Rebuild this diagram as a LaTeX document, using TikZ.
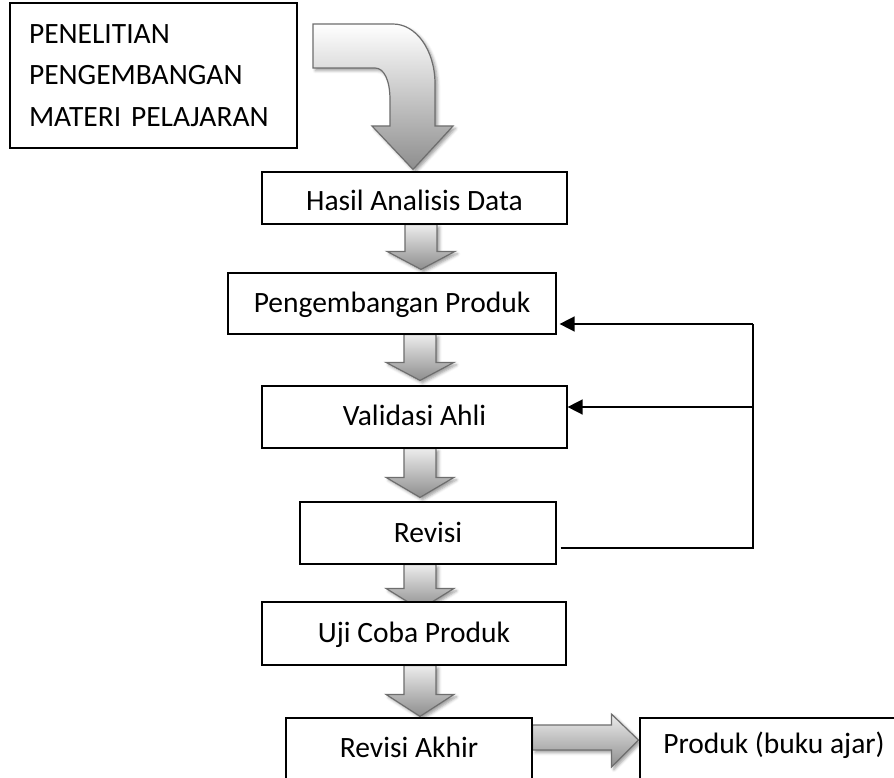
\documentclass[tikz,border=0pt]{standalone}
\usepackage{fontspec}
\setmainfont{Carlito}
\usetikzlibrary{calc,arrows.meta,shadows.blur}
\pgfdeclarelayer{background}
\pgfsetlayers{background,main}
\definecolor{arrowline}{HTML}{6E6E6E}
\definecolor{arrowlight}{HTML}{ECECEC}
\definecolor{arrowdark}{HTML}{8E8E8E}
\tikzset{
  box/.style={draw=black, line width=1.2pt, fill=white, inner sep=0pt,
    font=\fontsize{29.5}{34}\selectfont},
  tb/.style={text height=#1, text depth=0pt},
  blk/.style={draw=arrowline, line width=1.2pt, line join=miter,
    top color=arrowlight, bottom color=arrowdark,
    blur shadow={shadow xshift=2.5pt, shadow yshift=-2.5pt, shadow blur radius=3pt}},
  fb/.style={line width=1.5pt, black},
  fbarrow/.style={-{Triangle[length=15pt,width=15pt]}}
}
\newcommand\blkdown[5]{%
  \path[blk] ({#1-16},0 |- #2.south)
    -- ($({#1-16},0 |- #3.north)+(0,{-(#4)-(#5)})$) -- ++(-18,0)
    -- ($(#1,0 |- #3.north)+(0,{-(#4)})$)
    -- ($({#1+34},0 |- #3.north)+(0,{-(#4)-(#5)})$) -- ++(-18,0)
    -- ({#1+16},0 |- #2.south) -- cycle;}
\begin{document}
\begin{tikzpicture}[x=1pt,y=-1pt]
\useasboundingbox (0,0) rectangle (894,778);

% boxes
\node[box, minimum width=287, minimum height=145, text width=249pt, align=left,
  font=\fontsize{29.5}{41.5}\selectfont] (top) at (153.5,75.5)
  {PENELITIAN\\PENGEMBANGAN\\MATERI PELAJARAN};
\node[box, tb=26pt, minimum width=305, minimum height=52] (hasil) at (414.5,198) {Hasil Analisis Data};
\node[box, tb=17pt, minimum width=328, minimum height=61] (peng) at (392,303.5) {Pengembangan Produk};
\node[box, tb=16pt, minimum width=305, minimum height=62] (val) at (414.5,417) {Validasi Ahli};
\node[box, tb=18pt, minimum width=256, minimum height=62] (rev) at (428,533) {Revisi};
\node[box, tb=17pt, minimum width=304, minimum height=63] (uji) at (414,633.5) {Uji Coba Produk};
\node[box, tb=16pt, minimum width=246, minimum height=62] (ra) at (409,749) {Revisi Akhir};
\node[box, tb=8pt, minimum width=268, minimum height=62] (prod) at (774,749) {Produk (buku ajar)};

% block arrows
\begin{pgfonlayer}{background}
\path[blk, top color=white, bottom color=arrowdark]
  (313,24) -- (393,24) .. controls (416,24) and (435,50) .. (435,84)
  -- (435,126) -- (453,126) -- ($(413,0 |- hasil.north)+(0,-2)$)
  -- (372,126) -- (390,126) -- (390,100)
  .. controls (390,80) and (384,68) .. (375,68) -- (313,68) -- cycle;
\blkdown{421}{hasil}{peng}{3}{18}
\blkdown{420}{peng}{val}{5}{18}
\blkdown{420}{val}{rev}{4}{20}
\blkdown{420}{rev}{uji}{-8}{21}
\blkdown{420}{uji}{ra}{1}{22}
\path[blk] ($(ra.east)+(0,-24)$) -- ($(prod.west)+(-28,-24)$)
  -- ($(prod.west)+(-28,-35)$) -- ($(prod.west)+(-1,-9)$)
  -- ($(prod.west)+(-28,18)$) -- ($(prod.west)+(-28,1)$)
  -- ($(ra.east)+(0,1)$) -- cycle;
\end{pgfonlayer}

% feedback lines
\coordinate (c1) at (753,324);
\coordinate (c2) at (753,407);
\coordinate (rv) at ($(rev.east)+(4,15)$);
\draw[fb, line width=1.2pt] (rv) -- (rv -| c1) -- (c1);
\draw[fb, fbarrow, shorten >=3pt] (c1) -- (c1 -| peng.east);
\draw[fb, fbarrow] (c2) -- (c2 -| val.east);
\end{tikzpicture}
\end{document}
